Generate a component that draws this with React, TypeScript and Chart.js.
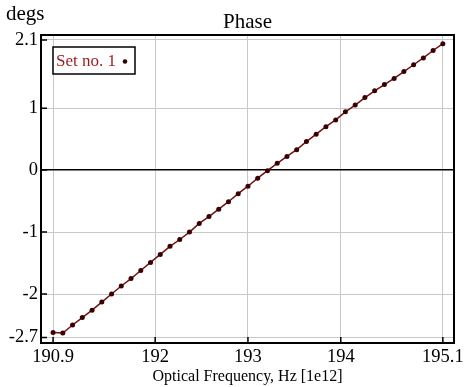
import React, { useEffect, useRef } from "react";
import { Chart, registerables } from "chart.js";

Chart.register(...registerables);

const freqs: number[] = [
  190.9, 191.005, 191.11, 191.215, 191.32, 191.425, 191.53, 191.635, 191.74, 191.845,
  191.95, 192.055, 192.16, 192.265, 192.37, 192.475, 192.58, 192.685, 192.79, 192.895,
  193.0, 193.105, 193.21, 193.315, 193.42, 193.525, 193.63, 193.735, 193.84, 193.945,
  194.05, 194.155, 194.26, 194.365, 194.47, 194.575, 194.68, 194.785, 194.89, 194.995,
  195.1,
];

const phase: number[] = [
  -2.62, -2.63, -2.5, -2.38, -2.26, -2.13, -2.0, -1.87, -1.75, -1.62,
  -1.49, -1.36, -1.23, -1.12, -1.0, -0.86, -0.75, -0.63, -0.51, -0.38,
  -0.26, -0.13, -0.01, 0.11, 0.22, 0.33, 0.46, 0.58, 0.7, 0.81,
  0.94, 1.05, 1.17, 1.28, 1.38, 1.48, 1.59, 1.7, 1.81, 1.93,
  2.04,
];

const xTicks: number[] = [190.9, 192, 193, 194, 195.1];
const yTicks: number[] = [-2.7, -2, -1, 0, 1, 2.1];

const titleText = "Phase";
const xTitle = "Optical Frequency, Hz [1e12]";
const yUnit = "degs";
const seriesName = "Set no. 1";

const FONT = "'Liberation Serif', 'Times New Roman', serif";

export default function App() {
  const ref = useRef<HTMLCanvasElement | null>(null);

  useEffect(() => {
    document.body.style.margin = "0";
    const canvas = ref.current;
    if (!canvas) return;

    const overlay = {
      id: "overlay",
      afterDraw(chart: any) {
        const { ctx, chartArea } = chart;
        const { left, right, top, bottom } = chartArea;
        const xs = chart.scales.x;
        const ys = chart.scales.y;
        ctx.save();
        // inward ticks
        ctx.strokeStyle = "#000";
        ctx.lineWidth = 1.5;
        ctx.beginPath();
        yTicks.forEach((v) => {
          const py = ys.getPixelForValue(v);
          ctx.moveTo(left, py);
          ctx.lineTo(left + 6, py);
        });
        xTicks.forEach((v) => {
          const px = xs.getPixelForValue(v);
          ctx.moveTo(px, bottom);
          ctx.lineTo(px, bottom - 6);
        });
        ctx.stroke();
        // border
        ctx.lineWidth = 2;
        ctx.strokeRect(left, top, right - left, bottom - top);
        // title + unit
        ctx.fillStyle = "#000";
        ctx.font = `21px ${FONT}`;
        ctx.textAlign = "center";
        ctx.textBaseline = "middle";
        ctx.fillText(titleText, (left + right) / 2, 22);
        ctx.textAlign = "left";
        ctx.fillText(yUnit, 6, 14);
        ctx.font = `16px ${FONT}`;
        ctx.textAlign = "center";
        ctx.fillText(xTitle, (left + right) / 2, 377);
        // legend
        const lx = 53, ly = 47, lw = 82, lh = 27;
        ctx.fillStyle = "#fff";
        ctx.fillRect(lx, ly, lw, lh);
        ctx.lineWidth = 1.5;
        ctx.strokeStyle = "#000";
        ctx.strokeRect(lx, ly, lw, lh);
        ctx.fillStyle = "#9b1b1b";
        ctx.font = `17px ${FONT}`;
        ctx.textAlign = "left";
        ctx.fillText(seriesName, lx + 3, ly + lh / 2 + 1);
        ctx.fillStyle = "#2a0000";
        ctx.beginPath();
        ctx.arc(lx + 72, ly + lh / 2 + 1, 2.3, 0, Math.PI * 2);
        ctx.fill();
        ctx.restore();
      },
    };

    const chart = new Chart(canvas, {
      type: "line",
      data: {
        datasets: [
          {
            label: seriesName,
            data: freqs.map((f, i) => ({ x: f, y: phase[i] })),
            borderColor: "#701212",
            borderWidth: 1.5,
            pointBackgroundColor: "#3a0000",
            pointBorderColor: "#3a0000",
            pointRadius: 2.5,
            pointBorderWidth: 0,
            tension: 0,
          },
        ],
      },
      options: {
        animation: false,
        responsive: true,
        maintainAspectRatio: false,
        layout: { padding: { left: 0, right: 14, top: 35, bottom: 0 } },
        plugins: {
          legend: { display: false },
          tooltip: { enabled: false },
          title: { display: false },
        },
        scales: {
          x: {
            type: "linear",
            min: 190.77,
            max: 195.22,
            afterBuildTicks: (s: any) => {
              s.ticks = xTicks.map((v) => ({ value: v }));
            },
            afterFit: (s: any) => {
              s.height = 44;
            },
            ticks: {
              color: "#000",
              font: { family: FONT, size: 18.5 },
              padding: 3,
              maxRotation: 0,
              autoSkip: false,
              callback: (v: any) => String(v),
            },
            grid: { color: "#c8c8c8", lineWidth: 1, drawTicks: false },
            border: { display: false },
          },
          y: {
            type: "linear",
            min: -2.79,
            max: 2.18,
            afterBuildTicks: (s: any) => {
              s.ticks = yTicks.map((v) => ({ value: v }));
            },
            afterFit: (s: any) => {
              s.width = 41;
            },
            ticks: {
              color: "#000",
              font: { family: FONT, size: 18.5 },
              padding: 3,
              autoSkip: false,
              callback: (v: any) => String(v),
            },
            grid: {
              color: (c: any) => (c.tick && c.tick.value === 0 ? "#000" : "#c8c8c8"),
              lineWidth: (c: any) => (c.tick && c.tick.value === 0 ? 1.5 : 1),
              drawTicks: false,
            },
            border: { display: false },
          },
        },
      },
      plugins: [overlay],
    });

    return () => chart.destroy();
  }, []);

  return (
    <div style={{ position: "absolute", left: 0, top: 0, width: 468, height: 387, background: "#fff" }}>
      <canvas ref={ref} />
    </div>
  );
}
